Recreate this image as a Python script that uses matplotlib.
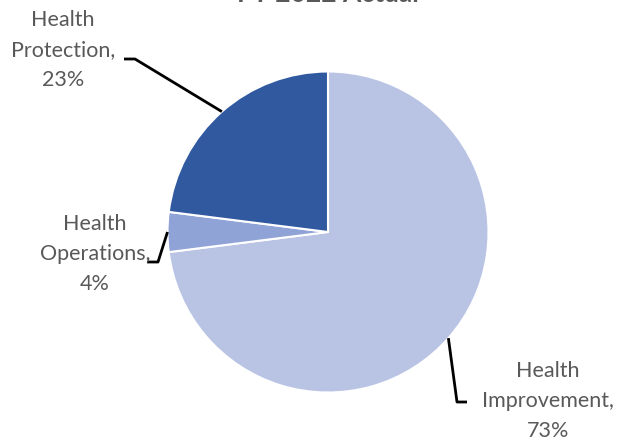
import numpy as np
import matplotlib.pyplot as plt

labels = ["Health\nImprovement,\n73%", "Health\nOperations,\n4%", "Health\nProtection,\n23%"]
shares = [73, 4, 23]
colors = ["#B9C3E3", "#8FA3D6", "#3159A0"]
title = "FY 2022 Actual"

W, H = 622, 440
fig = plt.figure(figsize=(W / 100, H / 100), dpi=100)
ax = fig.add_axes([0, 0, 1, 1])

cx, cy, r = 328, H - 232, 160.5
wedges, _ = ax.pie(shares, colors=colors, startangle=90, counterclock=False,
                   center=(cx, cy), radius=r, frame=True,
                   wedgeprops=dict(edgecolor="white", linewidth=1.5))
ax.set_xlim(0, W)
ax.set_ylim(0, H)
ax.set_aspect("equal")
ax.axis("off")

# label text position and elbow of the leader line (pixels, y down)
text_pos = [(548, 401), (95, 254), (63, 50)]
elbows = [[(467, 402), (457, 402)], [(147, 262), (158, 262)], [(124, 59), (135, 59)]]

for w, lab, (tx, ty), elb in zip(wedges, labels, text_pos, elbows):
    ang = np.deg2rad((w.theta1 + w.theta2) / 2)
    ax_, ay_ = cx + r * np.cos(ang), cy + r * np.sin(ang)
    xs = [p[0] for p in elb] + [ax_]
    ys = [H - p[1] for p in elb] + [ay_]
    ax.plot(xs, ys, color="black", lw=2, solid_capstyle="butt")
    ax.text(tx, H - ty, lab, ha="center", va="center", fontsize=15.5,
            family="Lato", color="#595959", linespacing=1.6)

ax.text(cx, H - 1.5, title, ha="center", va="baseline", fontsize=19,
        family="Lato", fontweight="bold", color="#595959")

fig.savefig("out.png", dpi=100)
